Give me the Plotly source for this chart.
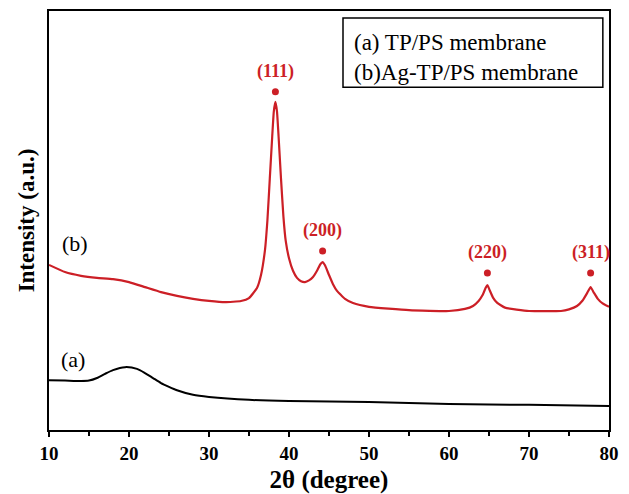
import plotly.graph_objects as go

# Curve (a): TP/PS membrane
x_a = [10, 12, 14, 15, 16, 17, 18, 19.5, 21, 22, 23, 24, 25, 26, 28, 30, 35, 40, 50, 60, 70, 80]
y_a = [11.9, 11.8, 11.7, 11.8, 12.4, 13.4, 14.3, 15.0, 14.6, 13.6, 12.4, 11.2, 10.3, 9.5, 8.4, 7.9, 7.2, 6.9, 6.7, 6.2, 6.0, 5.7]

# Curve (b): Ag-TP/PS membrane
x_b = [10, 12, 14, 16, 18, 20, 22, 24, 26, 28, 30, 32, 34, 35, 36, 36.5, 37, 37.3, 37.6, 37.9, 38.1, 38.3,
       38.5, 38.7, 39.0, 39.3, 39.6, 40, 40.5, 41, 41.5, 42, 42.5, 43, 43.5, 43.9, 44.2, 44.5, 45, 45.5, 46,
       46.5, 47, 48, 50, 55, 60, 62, 63, 63.7, 64.2, 64.6, 64.8, 65.1, 65.5, 66, 67, 70, 74, 75, 76, 76.7,
       77.3, 77.7, 78.1, 78.6, 79.2, 80]
y_b = [39.4, 37.7, 36.8, 36.3, 36.0, 35.3, 34.1, 32.9, 32.0, 31.3, 30.8, 30.5, 30.8, 31.5, 33.9, 37.0, 43.0, 50.0, 60.0, 70.0, 76.0, 78.3,
       76.0, 70.0, 60.0, 51.0, 45.0, 41.0, 38.0, 36.3, 35.5, 35.3, 35.7, 36.5, 38.0, 39.5, 40.1, 39.3, 37.0, 34.8, 33.2,
       32.2, 31.3, 30.3, 29.4, 28.6, 28.4, 28.9, 29.6, 30.8, 32.2, 34.0, 34.6, 33.3, 31.6, 30.4, 29.2, 28.4, 28.4, 28.8, 29.6, 30.9,
       32.8, 34.1, 32.8, 31.3, 30.2, 29.4]

# Peak markers
peak_labels = ["(111)", "(200)", "(220)", "(311)"]
peak_x = [38.3, 44.2, 64.8, 77.7]
peak_dot_y = [80.7, 42.7, 37.5, 37.5]
peak_label_y = [85.6, 47.5, 42.4, 42.4]

x_ticks = [10, 20, 30, 40, 50, 60, 70, 80]

RED = "#cc1f26"
SERIF = "Liberation Serif"

fig = go.Figure()
fig.add_trace(go.Scatter(x=x_a, y=y_a, mode="lines", line=dict(color="black", width=2, shape="spline", smoothing=0.6),
                         showlegend=False))
fig.add_trace(go.Scatter(x=x_b, y=y_b, mode="lines", line=dict(color=RED, width=2.2, shape="spline", smoothing=0.4),
                         showlegend=False))
fig.add_trace(go.Scatter(x=peak_x, y=peak_dot_y, mode="markers", marker=dict(color=RED, size=7), showlegend=False))

for lab, px, py in zip(peak_labels, peak_x, peak_label_y):
    fig.add_annotation(x=px, y=py, text=lab, showarrow=False,
                       font=dict(family=SERIF, size=18, color=RED, weight="bold"))

fig.add_annotation(x=13.25, y=44.5, text="(b)", showarrow=False, font=dict(family=SERIF, size=22, color="black"))
fig.add_annotation(x=13.0, y=16.9, text="(a)", showarrow=False, font=dict(family=SERIF, size=22, color="black"))

# Legend box
fig.add_shape(type="rect", xref="paper", yref="paper", x0=0.525, x1=0.989, y0=0.818, y1=0.983,
              line=dict(color="black", width=1.5), fillcolor="white", layer="above")
fig.add_annotation(xref="paper", yref="paper", x=0.541, y=0.926, xanchor="left", yanchor="middle",
                   text="(a) TP/PS membrane", showarrow=False, font=dict(family=SERIF, size=23, color="black"))
fig.add_annotation(xref="paper", yref="paper", x=0.541, y=0.854, xanchor="left", yanchor="middle",
                   text="(b)Ag-TP/PS membrane", showarrow=False, font=dict(family=SERIF, size=23, color="black"))

fig.update_layout(
    width=629, height=494,
    margin=dict(l=49, r=20, t=11, b=64),
    plot_bgcolor="white", paper_bgcolor="white",
    xaxis=dict(range=[10, 80], tickvals=x_ticks, ticks="outside", ticklen=5, tickwidth=1.5, tickcolor="black",
               minor=dict(dtick=5, ticks="outside", ticklen=4, tickwidth=1.5, tickcolor="black"),
               showline=True, linecolor="black", linewidth=1.5, mirror=True, showgrid=False, zeroline=False,
               automargin=False,
               tickfont=dict(family=SERIF, size=19, color="black", weight="bold"),
               title=dict(text="2θ (degree)", font=dict(family=SERIF, size=25, color="black", weight="bold"), standoff=8)),
    yaxis=dict(range=[0, 100], showticklabels=False, ticks="", showline=True, linecolor="black", linewidth=1.5,
               mirror=True, showgrid=False, zeroline=False, automargin=False,
               title=dict(text="Intensity (a.u.)", font=dict(family=SERIF, size=23, color="black", weight="bold"), standoff=6)),
)

fig.write_html("out.html")
